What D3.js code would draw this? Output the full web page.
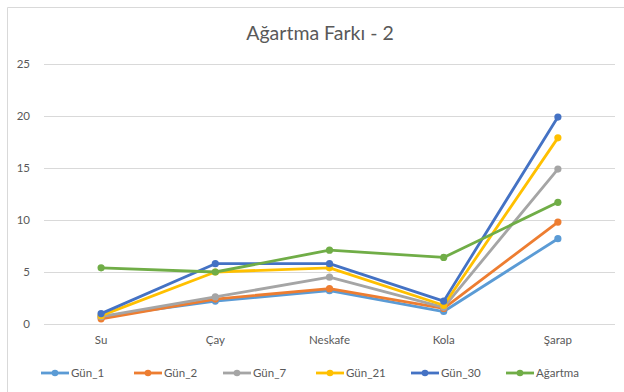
<!DOCTYPE html>
<html>
    <head>
        <meta charset="utf-8">
        <title>Ağartma Farkı - 2</title>
        <script src="https://cdn.jsdelivr.net/npm/d3@7"></script>
        <style>
            body{
                margin: 0;
                background: #fff;
            }
            text{
                font-family: Lato, "Open Sans", sans-serif;
                fill: #595959;
            }
            .grid line{
                stroke: #d9d9d9;
                stroke-width: 1px;
            }
            .series{
                fill: none;
                stroke-width: 2.8px;
                stroke-linejoin: round;
            }
        </style>
    </head>
    <body>
        <script>
            // Data
            let categories = ["Su", "Çay", "Neskafe", "Kola", "Şarap"]
            let seriesNames = ["Gün_1", "Gün_2", "Gün_7", "Gün_21", "Gün_30", "Ağartma"]
            let gun1 = [0.7, 2.2, 3.2, 1.2, 8.2]
            let gun2 = [0.5, 2.4, 3.4, 1.5, 9.8]
            let gun7 = [0.7, 2.6, 4.5, 1.6, 14.9]
            let gun21 = [0.8, 5.0, 5.4, 1.8, 17.9]
            let gun30 = [1.0, 5.8, 5.8, 2.2, 19.9]
            let agartma = [5.4, 5.0, 7.1, 6.4, 11.7]
            let yTicks = [0, 5, 10, 15, 20, 25]
            let colors = ["#5b9bd5", "#ed7d31", "#a5a5a5", "#ffc000", "#4472c4", "#70ad47"]

            let allSeries = [gun1, gun2, gun7, gun21, gun30, agartma]

            let w = 624
            let h = 392
            let svg = d3.select("body").append("svg")
                        .attr("width", w)
                        .attr("height", h)

            // chart border
            svg.append("path")
                .attr("d", "M7.5," + h + " V7.5 H" + w)
                .attr("fill", "none")
                .attr("stroke", "#d9d9d9")

            svg.append("text")
                .attr("x", 320)
                .attr("y", 40)
                .attr("text-anchor", "middle")
                .style("font-size", "19.5px")
                .text("Ağartma Farkı - 2")

            let xScale = d3.scaleBand()
                            .domain(categories)
                            .range([44, 615])
            let yScale = d3.scaleLinear()
                            .domain([0, 25])
                            .range([324, 64])

            // gridlines
            svg.append("g")
                .attr("class", "grid")
                .selectAll("line")
                .data(yTicks)
                .enter()
                .append("line")
                .attr("x1", 44)
                .attr("x2", 615)
                .attr("y1", d => Math.round(yScale(d)) + 0.5)
                .attr("y2", d => Math.round(yScale(d)) + 0.5)

            let yAxis = d3.axisLeft(yScale).tickValues(yTicks).tickSize(0).tickPadding(14)
            let gy = svg.append("g")
                .attr("transform", "translate(44,0)")
                .call(yAxis)
            gy.select(".domain").remove()
            gy.selectAll("text").style("font-size", "11.5px").attr("fill", "#595959")

            let xAxis = d3.axisBottom(xScale).tickSize(0).tickPadding(12)
            let gx = svg.append("g")
                .attr("transform", "translate(0,324)")
                .call(xAxis)
            gx.select(".domain").remove()
            gx.selectAll("text").style("font-size", "11.5px").attr("fill", "#595959")

            let cx = d => xScale(d) + xScale.bandwidth() / 2
            let line = d3.line()
                        .x((d, i) => cx(categories[i]))
                        .y(d => yScale(d))

            allSeries.forEach((vals, k) => {
                let g = svg.append("g")
                g.append("path")
                    .datum(vals)
                    .attr("class", "series")
                    .attr("d", line)
                    .attr("stroke", colors[k])
                g.selectAll("circle")
                    .data(vals)
                    .enter()
                    .append("circle")
                    .attr("cx", (d, i) => cx(categories[i]))
                    .attr("cy", d => yScale(d))
                    .attr("r", 3.6)
                    .attr("fill", colors[k])
            })

            // legend
            let legendX = [41, 134, 223, 316, 411, 506]
            let legend = svg.append("g").attr("transform", "translate(0,373)")
            seriesNames.forEach((name, k) => {
                let item = legend.append("g").attr("transform", "translate(" + legendX[k] + ",0)")
                item.append("line")
                    .attr("x1", 0).attr("x2", 28)
                    .attr("stroke", colors[k])
                    .attr("stroke-width", 2.8)
                item.append("circle")
                    .attr("cx", 14).attr("r", 3.3)
                    .attr("fill", colors[k])
                item.append("text")
                    .attr("x", 30)
                    .attr("y", 4)
                    .style("font-size", "11.5px")
                    .text(name)
            })
        </script>
    </body>
</html>
